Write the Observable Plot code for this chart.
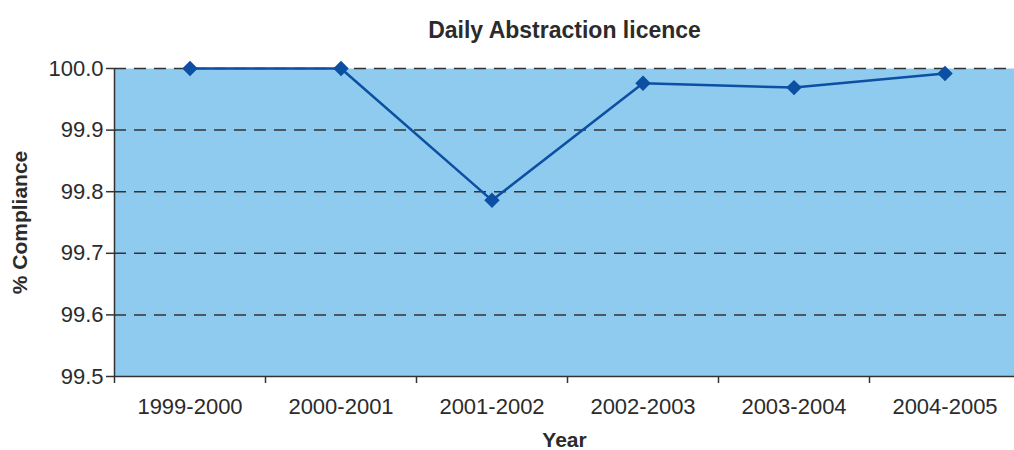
<!DOCTYPE html>
<html>
<head>
<meta charset="utf-8">
<script src="https://cdn.jsdelivr.net/npm/d3@7"></script>
<script src="https://cdn.jsdelivr.net/npm/@observablehq/plot@0.6"></script>
<style>
  html, body { margin: 0; padding: 0; background: #fff; overflow: hidden; }
  #chart svg { display: block; overflow: hidden; }
</style>
</head>
<body>
<div id="chart"></div>
<script>
const title = "Daily Abstraction licence";
const categories = ["1999-2000", "2000-2001", "2001-2002", "2002-2003", "2003-2004", "2004-2005"];
const compliance = [100.0, 100.0, 99.786, 99.976, 99.969, 99.992];
const yTicks = [99.5, 99.6, 99.7, 99.8, 99.9, 100.0];
const gridTicks = [99.6, 99.7, 99.8, 99.9, 100.0];
const xLabel = "Year";
const yLabel = "% Compliance";

const data = categories.map((c, i) => ({i, category: c, value: compliance[i]}));
const boundaries = d3.range(categories.length + 1).map(k => k - 0.5);

const font = "'Liberation Sans', Arial, sans-serif";
const textColor = "#2b2b2b";
const lineColor = "#0d4fa2";

const chart = Plot.plot({
  width: 1014,
  height: 450,
  marginLeft: 114,
  marginRight: 0,
  marginTop: 68,
  marginBottom: 74,
  style: {fontFamily: font, color: textColor, background: "white"},
  x: {domain: [-0.5, categories.length - 0.5], range: [114, 1020]},
  y: {domain: [99.5, 100.0]},
  marks: [
    Plot.frame({fill: "#8ecbee", stroke: null}),
    Plot.ruleY(gridTicks, {stroke: "#333", strokeWidth: 1.5, strokeDasharray: "12,8"}),
    Plot.ruleX([-0.5], {stroke: "#333", strokeWidth: 1.5}),
    Plot.ruleY([99.5], {stroke: "#333", strokeWidth: 1.5}),
    Plot.axisY({
      ticks: yTicks, tickFormat: ".1f", tickSize: 8, tickPadding: 3,
      fontSize: 22, stroke: "#333", strokeWidth: 1.5,
      label: yLabel, labelAnchor: "center", labelOffset: 102, labelArrow: "none"
    }),
    Plot.axisX({ticks: boundaries, tickFormat: () => "", tickSize: 7, stroke: "#333", strokeWidth: 1.5, label: null}),
    Plot.axisX({
      ticks: d3.range(categories.length), tickFormat: i => categories[i],
      tickSize: 0, tickPadding: 22, fontSize: 22,
      label: xLabel, labelAnchor: "center", labelOffset: 70, labelArrow: "none"
    }),
    Plot.line(data, {x: "i", y: "value", stroke: lineColor, strokeWidth: 2.5}),
    Plot.dot(data, {x: "i", y: "value", symbol: "diamond2", r: 6, fill: lineColor, stroke: lineColor}),
    Plot.text([title], {frameAnchor: "top", dy: -47, fontSize: 23, fontWeight: "bold", fill: textColor})
  ]
});

// style axis labels bold
chart.querySelectorAll("[aria-label='y-axis label'] text, [aria-label='x-axis label'] text").forEach(t => {
  t.setAttribute("font-weight", "bold");
  t.setAttribute("font-size", "21");
  t.textContent = t.textContent.replace(/\s*[→↑←↓]\s*/g, "");
});
document.getElementById("chart").appendChild(chart);
</script>
</body>
</html>
